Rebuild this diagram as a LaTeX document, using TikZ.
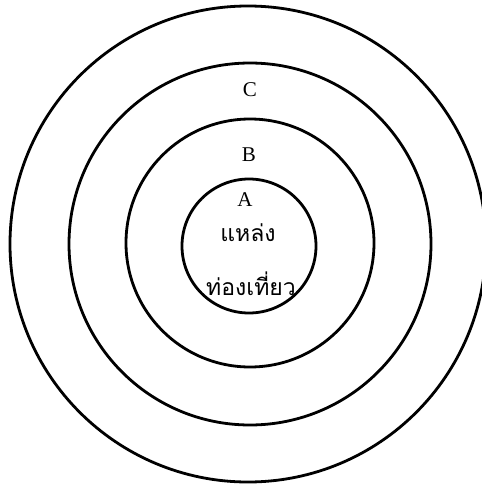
\documentclass[tikz,border=0pt]{standalone}
\usepackage{fontspec}
\setmainfont{Liberation Serif}
\newfontfamily\thaifont[Script=Thai]{Loma}

\tikzset{
  ring/.style={draw=black, line width=2.8pt},
  ringlabel/.style={inner sep=0pt, font=\fontsize{21}{24}\selectfont},
  thailabel/.style={inner sep=0pt, font=\thaifont\fontsize{23}{26}\selectfont}
}

\begin{document}
\begin{tikzpicture}[x=1pt, y=-1pt]
		\useasboundingbox (0, 0) rectangle (482, 485);
		
		% rings, outermost first
		\foreach \cx/\cy/\r in {248/244/238, 250/244/181, 250/243/124, 249/246/67}
			\draw[ring] (\cx, \cy) circle [radius=\r];
		
		% zone letters
		\node[ringlabel] (zoneC) at (250, 90) {C};
		\node[ringlabel] (zoneB) at (249, 155) {B};
		\node[ringlabel] (zoneA) at (245, 200) {A};
		
		% centre text
		\node[thailabel] (attraction) at (248, 233) {แหล่ง};
		\node[thailabel] (tourism) at (251, 284) {ท่องเที่ยว};
	\end{tikzpicture}
\end{document}
